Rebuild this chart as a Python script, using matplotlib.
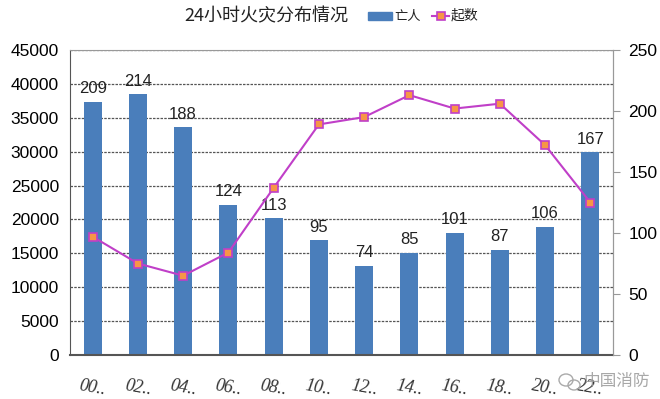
import matplotlib.pyplot as plt
from matplotlib.patches import Ellipse

plt.rcParams['font.family'] = ['Liberation Sans', 'Noto Sans CJK SC', 'DejaVu Sans']

# hours (truncated labels as in the original)
hours = ['00..', '02..', '04..', '06..', '08..', '10..', '12..', '14..', '16..', '18..', '20..', '22..']
deaths = [209, 214, 188, 124, 113, 95, 74, 85, 101, 87, 106, 167]
bar_heights = [37400, 38450, 33600, 22200, 20200, 16900, 13150, 15100, 18050, 15500, 18950, 29900]
# fire count line on the right axis
fires = [97, 75, 65, 84, 137, 189, 195, 213, 202, 206, 172, 125]

BAR_COLOR = '#4a7ebb'
LINE_COLOR = '#c03fc8'
MARKER_FILL = '#f79646'

fig = plt.figure(figsize=(6.6, 3.99), dpi=100)
ax = fig.add_axes([70 / 660, 1 - 355 / 399, 543 / 660, 305 / 399])
x = list(range(len(hours)))

ax.bar(x, bar_heights, width=0.4, color=BAR_COLOR, zorder=2)
for xi, h, d in zip(x, bar_heights, deaths):
    ax.annotate(str(d), (xi, h), xytext=(0, 4), textcoords='offset points',
                ha='center', va='bottom', fontsize=12, color='#222222')

ax.set_xlim(-0.5, 11.5)
ax.set_ylim(0, 45000)
ax.set_yticks(range(0, 45001, 5000))
ax.yaxis.grid(True, linestyle=(0, (2, 1)), color='#555555', linewidth=0.9, zorder=0)
ax.set_axisbelow(True)
ax.tick_params(axis='y', length=0, labelsize=12.5, pad=8)
ax.set_xticks(x)
ax.set_xticklabels(hours, family='Liberation Serif', style='italic', fontsize=13,
                   rotation=-10, color='#333333')
ax.tick_params(axis='x', length=0, pad=16)
for side in ['top', 'right']:
    ax.spines[side].set_color('#999999')
ax.spines['left'].set_color('#555555')
ax.spines['bottom'].set_color('#555555')
ax.spines['bottom'].set_linewidth(1.5)

ax2 = ax.twinx()
ax2.plot(x, fires, color=LINE_COLOR, linewidth=1.5, marker='s', markersize=6,
         markerfacecolor=MARKER_FILL, markeredgecolor=LINE_COLOR, markeredgewidth=1.2, zorder=3)
ax2.set_ylim(0, 250)
ax2.set_yticks(range(0, 251, 50))
ax2.tick_params(axis='y', length=5, color='#999999', labelsize=12.5, pad=6)
ax2.spines['right'].set_color('#999999')
for side in ['top', 'left', 'bottom']:
    ax2.spines[side].set_visible(False)

fig.text(266 / 660, 1 - 16 / 399, '24小时火灾分布情况', ha='center', va='center',
         fontsize=13, family=['Noto Sans CJK SC'], color='#222222')

# legend drawn by hand next to the title
fig.patches.append(plt.Rectangle((368 / 660, 1 - 20 / 399), 24 / 660, 8 / 399,
                                 transform=fig.transFigure, color=BAR_COLOR))
fig.text(394 / 660, 1 - 16 / 399, '亡人', va='center', fontsize=9.5,
         family=['Noto Sans CJK SC'], color='#222222')
fig.add_artist(plt.Line2D([432 / 660, 449 / 660], [1 - 16 / 399, 1 - 16 / 399],
                          transform=fig.transFigure, color=LINE_COLOR, linewidth=1.5))
fig.add_artist(plt.Line2D([440.5 / 660], [1 - 16 / 399], transform=fig.transFigure,
                          marker='s', markersize=6, markerfacecolor=MARKER_FILL,
                          markeredgecolor=LINE_COLOR, markeredgewidth=1.2, linestyle='none'))
fig.text(451 / 660, 1 - 16 / 399, '起数', va='center', fontsize=10,
         family=['Noto Sans CJK SC'], color='#222222')

# watermark with a rough chat-bubble icon
fig.patches.append(Ellipse((566 / 660, 1 - 380 / 399), 14 / 660, 12 / 399, transform=fig.transFigure,
                           fill=False, edgecolor='#aaaaaa', linewidth=1.0))
fig.patches.append(Ellipse((574 / 660, 1 - 385 / 399), 12 / 660, 10 / 399, transform=fig.transFigure,
                           fill=False, edgecolor='#aaaaaa', linewidth=1.0))
fig.text(617 / 660, 1 - 381 / 399, '中国消防', ha='center', va='center', fontsize=12,
         family=['Noto Sans CJK SC'], color='#999999', alpha=0.85)

fig.savefig('out.png', dpi=100)
